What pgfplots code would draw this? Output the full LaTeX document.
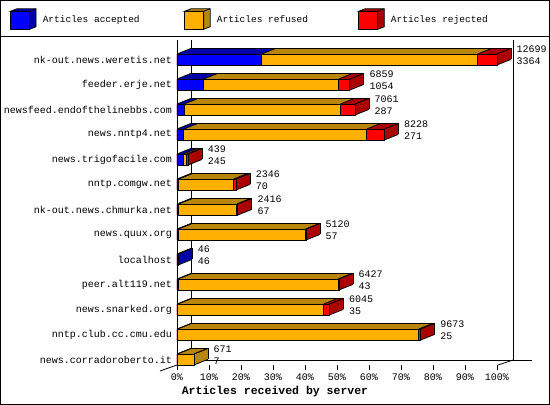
\documentclass[border=0pt]{standalone}
\usepackage{pgfplots}
\pgfplotsset{compat=1.18}
\usepackage{pgfplotstable}
\usepackage{fontspec}
\setmainfont{Liberation Mono}
\definecolor{acc}{HTML}{0000FF}
\definecolor{accD}{HTML}{0000A8}
\definecolor{ref}{HTML}{FFB000}
\definecolor{refD}{HTML}{B8860B}
\definecolor{rej}{HTML}{FF0000}
\definecolor{rejD}{HTML}{AA0000}

% pos: 13 = top row
\pgfplotstableread{
pos total accepted refused rejected
13 12699 3364 8565 770
12 6859 1054 5365 440
11 7061 287 6199 575
10 8228 271 7256 701
9 439 245 130 64
8 2346 70 2176 100
7 2416 67 2299 50
6 5120 57 5043 20
5 46 46 0 0
4 6427 43 6344 40
3 6045 35 5785 225
2 9673 25 9568 80
1 671 7 664 0
}\data

\pgfplotsset{mybar/.style={xbar, bar width=11pt, bar shift=0pt, draw=none},
  depth/.style={line width=11pt, xshift=#1pt, yshift={0.4*#1pt}}}

\begin{document}
\begin{tikzpicture}
\useasboundingbox (0pt,0pt) rectangle (550pt,-405pt);
% back walls (behind bars)
\draw[line width=0.8pt] (191pt,-40pt) -- (191pt,-360pt) -- (532pt,-360pt);
\draw[line width=0.8pt] (513pt,-40pt) -- (513pt,-360pt);
\draw[line width=0.8pt] (160pt,-371pt) -- (191pt,-360pt);
\draw[line width=0.8pt] (498pt,-365pt) -- (513pt,-360pt);
\begin{axis}[
  at={(177pt,-365pt)}, anchor=south west,
  scale only axis, width=320pt, height=325pt,
  xmin=0, xmax=12699, ymin=0.78, ymax=13.78,
  clip=false, scaled x ticks=false,
  axis x line*=bottom, axis y line*=left,
  x axis line style={draw=none},
  y axis line style={black, line width=0.8pt},
  xtick={0,1269.9,2539.8,3809.7,5079.6,6349.5,7619.4,8889.3,10159.2,11429.1,12699},
  xticklabels={0\%,10\%,20\%,30\%,40\%,50\%,60\%,70\%,80\%,90\%,100\%},
  xtick style={black, line width=0.8pt},
  tick align=outside, major tick length=5pt,
  ytick={1,...,13}, ytick style={draw=none},
  yticklabels={news.corradoroberto.it, nntp.club.cc.cmu.edu, news.snarked.org, peer.alt119.net, localhost, news.quux.org, nk-out.news.chmurka.net, nntp.comgw.net, news.trigofacile.com, news.nntp4.net, newsfeed.endofthelinebbs.com, feeder.erje.net, nk-out.news.weretis.net},
  tick label style={font=\fontsize{10}{12}\selectfont},
  yticklabel style={inner sep=0pt},
  xticklabel style={inner sep=0pt, yshift=-4pt},
  /pgf/number format/assume math mode=true,
  legend columns=3,
  legend style={at={(axis description cs:-0.522,1.0646)}, anchor=west, draw=none, fill=none, inner sep=0pt,
    nodes={inner sep=0pt, font=\fontsize{9.5}{11}\selectfont}},
]
\addlegendimage{legend image code/.code={
  \draw[fill=accD, line width=0.8pt] (0pt,9pt) -- (6.5pt,11.5pt) -- (25.5pt,11.5pt) -- (25.5pt,-6.5pt) -- (19pt,-9pt) -- (19pt,9pt) -- cycle;
  \draw[fill=acc, line width=0.8pt] (0pt,-9pt) rectangle (19pt,9pt);
  \draw[line width=0.8pt] (19pt,9pt) -- (25.5pt,11.5pt);
  \path (32pt,0pt);}}
\addlegendentry{\makebox[141.5pt][l]{Articles accepted}}
\addlegendimage{legend image code/.code={
  \draw[fill=refD, line width=0.8pt] (0pt,9pt) -- (6.5pt,11.5pt) -- (25.5pt,11.5pt) -- (25.5pt,-6.5pt) -- (19pt,-9pt) -- (19pt,9pt) -- cycle;
  \draw[fill=ref, line width=0.8pt] (0pt,-9pt) rectangle (19pt,9pt);
  \draw[line width=0.8pt] (19pt,9pt) -- (25.5pt,11.5pt);
  \path (32pt,0pt);}}
\addlegendentry{\makebox[141.5pt][l]{Articles refused}}
\addlegendimage{legend image code/.code={
  \draw[fill=rejD, line width=0.8pt] (0pt,9pt) -- (6.5pt,11.5pt) -- (25.5pt,11.5pt) -- (25.5pt,-6.5pt) -- (19pt,-9pt) -- (19pt,9pt) -- cycle;
  \draw[fill=rej, line width=0.8pt] (0pt,-9pt) rectangle (19pt,9pt);
  \draw[line width=0.8pt] (19pt,9pt) -- (25.5pt,11.5pt);
  \path (32pt,0pt);}}
\addlegendentry{\makebox[141.5pt][l]{Articles rejected}}

% extrusion (3D depth) layers: each segment as a thick line from its start to its end
\pgfplotsinvokeforeach{14,13,...,1}{
 \addplot[accD, depth=#1, quiver={u=\thisrow{accepted}, v=0}] table[x expr=0, y=pos]{\data};
 \addplot[refD, depth=#1, quiver={u=\thisrow{refused}, v=0}] table[x=accepted, y=pos]{\data};
 \addplot[rejD, depth=#1, quiver={u=\thisrow{rejected}, v=0}] table[x expr=\thisrow{accepted}+\thisrow{refused}, y=pos]{\data};
}
% front faces
\addplot[mybar, fill=rej, draw=black, line width=0.8pt] table[x=total,y=pos]{\data};
\addplot[mybar, fill=ref, draw=black, line width=0.8pt] table[x expr=\thisrow{accepted}+\thisrow{refused},y=pos]{\data};
\addplot[mybar, fill=acc, draw=black, line width=0.8pt] table[x=accepted,y=pos]{\data};
% edges of the 3D bars
\addplot[black, line width=0.8pt, quiver={u=555.6, v=0.224}] table[x expr=0, y expr=\thisrow{pos}+0.22]{\data};
\addplot[black, line width=0.8pt, quiver={u=555.6, v=0.224}] table[x=accepted, y expr=\thisrow{pos}+0.22]{\data};
\addplot[black, line width=0.8pt, quiver={u=555.6, v=0.224}] table[x expr=\thisrow{accepted}+\thisrow{refused}, y expr=\thisrow{pos}+0.22]{\data};
\addplot[black, line width=0.8pt, quiver={u=555.6, v=0.224}] table[x=total, y expr=\thisrow{pos}+0.22]{\data};
\addplot[black, line width=0.8pt, quiver={u=555.6, v=0.224}] table[x=total, y expr=\thisrow{pos}-0.22]{\data};
\addplot[black, line width=0.8pt, xshift=14pt, yshift=5.6pt, quiver={u=\thisrow{total}, v=0}] table[x expr=0, y expr=\thisrow{pos}+0.22]{\data};
\addplot[black, line width=0.8pt, xshift=14pt, yshift=5.6pt, quiver={u=0, v=-0.44}] table[x=total, y expr=\thisrow{pos}+0.22]{\data};
% value labels
\addplot[draw=none, nodes near coords, point meta=explicit symbolic,
  every node near coord/.append style={anchor=west, inner sep=0pt, xshift=19.5pt, yshift=10pt, font=\fontsize{10}{12}\selectfont}]
  table[x=total,y=pos,meta=total]{\data};
\addplot[draw=none, nodes near coords, point meta=explicit symbolic,
  every node near coord/.append style={anchor=west, inner sep=0pt, xshift=19.5pt, yshift=-1.5pt, font=\fontsize{10}{12}\selectfont}]
  table[x=total,y=pos,meta=accepted]{\data};
\end{axis}
\draw[line width=1pt] (0.5pt,-0.5pt) rectangle (549.5pt,-404.5pt);
\draw[line width=1pt] (0pt,-36pt) -- (550pt,-36pt);
\node[font=\bfseries\fontsize{11.5}{13}\selectfont] at (275pt,-392pt) {Articles received by server};
\end{tikzpicture}
\end{document}
